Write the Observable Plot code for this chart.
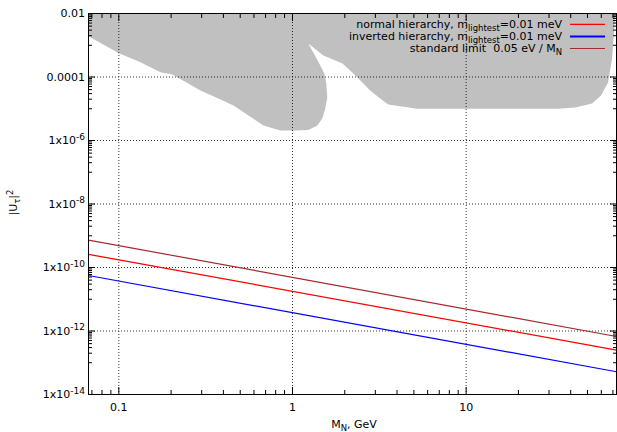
<!DOCTYPE html>
<html><head><meta charset="utf-8">
<script src="https://cdn.jsdelivr.net/npm/d3@7"></script>
<script src="https://cdn.jsdelivr.net/npm/@observablehq/plot@0.6"></script>
<style>body{margin:0;background:#fff}#chart svg{display:block}</style>
</head><body><div id="chart"></div>
<script>
// ---- data ----
const massRange = [0.0669, 73.4];                 // GeV, x-axis extent
const normalU2 = [2.6e-10, 2.5e-13];              // normal hierarchy at massRange ends
const invertedU2 = [5.6e-11, 5.2e-14];            // inverted hierarchy
const standardU2 = [7.3e-10, 6.7e-13];            // standard limit 0.05 eV / M_N
const seriesNames = ["normal", "inverted", "standard"];
const seriesColors = ["#ff0000", "#0000ff", "#a52a2a"];

// excluded (grey) region boundary, clockwise from top-left
const excludedMass = [0.0669, 73.4, 71.9, 69.2, 65.6, 59.8, 53.1, 42.4, 33.8, 5.23, 3.56, 3.20, 2.80, 2.46, 2.21, 1.94, 1.505, 1.234,
  1.446, 1.525, 1.566, 1.586, 1.545, 1.485, 1.390, 1.234, 1.011, 0.851, 0.680, 0.457, 0.385, 0.295, 0.2037, 0.1737, 0.1333, 0.1, 0.0669];
const excludedU2 = [1e-2, 1e-2, 6.8e-3, 3.83e-4, 6.7e-5, 2.61e-5, 1.46e-5, 1.09e-5, 1.0e-5, 1.0e-5, 1.36e-5, 2.10e-5, 3.76e-5, 7.76e-5, 1.39e-4, 2.66e-4, 4.75e-4, 1.135e-3,
  2.30e-4, 1.29e-4, 6.24e-5, 2.26e-5, 1.02e-5, 4.93e-6, 2.97e-6, 2.14e-6, 2.07e-6, 2.07e-6, 2.97e-6, 1.26e-5, 1.95e-5, 3.76e-5, 1.20e-4, 1.42e-4, 2.92e-4, 5.6e-4, 1.93e-3];

// ticks
const xMajorTicks = [0.1, 1, 10];
const xTickLabels = ["0.1", "1", "10"];
const xMinorTicks = [0.07, 0.08, 0.09, 0.2, 0.3, 0.4, 0.5, 0.6, 0.7, 0.8, 0.9, 2, 3, 4, 5, 6, 7, 8, 9, 20, 30, 40, 50, 60, 70];
const yMajorTicks = [1e-14, 1e-12, 1e-10, 1e-8, 1e-6, 1e-4, 1e-2];
const yTickLabels = ["1x10^-14", "1x10^-12", "1x10^-10", "1x10^-8", "1x10^-6", "0.0001", "0.01"];
const yMinorTicks = [];
[-13, -11, -9, -7, -5, -3].forEach(e => { for (let n = 1; n <= 9; n++) yMinorTicks.push(+(n + "e" + e)); });

// legend texts
const legendPre = ["normal hierarchy, m", "inverted hierarchy, m", "standard limit  0.05 eV / M"];
const legendSub = ["lightest", "lightest", "N"];
const legendPost = ["=0.01 meV", "=0.01 meV", ""];

// ---- build ----
const seriesValues = [normalU2, invertedU2, standardU2];
const lineData = seriesNames.flatMap((s, i) => massRange.map((m, j) => ({series: s, M: m, U2: seriesValues[i][j]})));
const region = excludedMass.map((m, i) => ({M: m, U2: excludedU2[i]}));
const font = "'DejaVu Sans', sans-serif";
const gridStyle = {stroke: "#000", strokeOpacity: 0.8, strokeDasharray: "1,2", strokeWidth: 1};
const noText = () => "";
const xFmt = d => xTickLabels[xMajorTicks.findIndex(v => Math.abs(v - d) / v < 1e-6)];
const yFmt = d => yTickLabels[yMajorTicks.findIndex(v => Math.abs(v - d) / v < 1e-6)];

const plot = Plot.plot({
  width: 617, height: 432,
  marginLeft: 88, marginRight: 1, marginTop: 13, marginBottom: 38,
  style: {fontFamily: font, fontSize: "11px", background: "#fff", color: "#000"},
  x: {type: "log", domain: massRange, label: null},
  y: {type: "log", domain: [1e-14, 1e-2], label: null},
  color: {domain: seriesNames, range: seriesColors},
  marks: [
    Plot.line(region, {x: "M", y: "U2", fill: "#c0c0c0", stroke: "none", curve: "linear"}),
    Plot.gridX(xMajorTicks, gridStyle),
    Plot.gridY(yMajorTicks.slice(1, -1), gridStyle),
    Plot.line(lineData, {x: "M", y: "U2", z: "series", stroke: "series", strokeWidth: 1.2}),
    Plot.axisX(xMajorTicks, {anchor: "bottom", tickSize: 0, tickPadding: 9, tickFormat: xFmt, label: null}),
    Plot.axisX(xMajorTicks, {anchor: "bottom", tickSize: -7, tickFormat: noText, label: null}),
    Plot.axisX(xMinorTicks, {anchor: "bottom", tickSize: -4, tickFormat: noText, label: null}),
    Plot.axisX(xMajorTicks, {anchor: "top", tickSize: -7, tickFormat: noText, label: null}),
    Plot.axisX(xMinorTicks, {anchor: "top", tickSize: -4, tickFormat: noText, label: null}),
    Plot.axisY(yMajorTicks, {anchor: "left", tickSize: 0, tickPadding: 3.5, tickFormat: yFmt, label: null}),
    Plot.axisY(yMajorTicks, {anchor: "left", tickSize: -7, tickFormat: noText, label: null}),
    Plot.axisY(yMinorTicks, {anchor: "left", tickSize: -4, tickFormat: noText, label: null}),
    Plot.axisY(yMajorTicks, {anchor: "right", tickSize: -7, tickFormat: noText, label: null}),
    Plot.axisY(yMinorTicks, {anchor: "right", tickSize: -4, tickFormat: noText, label: null}),
    Plot.frame({stroke: "#000", strokeWidth: 1})
  ]
});
document.getElementById("chart").appendChild(plot);

const svg = d3.select(plot);
// superscript exponents in y tick labels
svg.selectAll("text").each(function () {
  const t = this.textContent;
  if (t && t.includes("^") && this.children.length === 0) {
    const [b, e] = t.split("^");
    const s = d3.select(this);
    s.text(null);
    s.append("tspan").text(b);
    s.append("tspan").attr("dy", "-0.5em").attr("font-size", "9px").text(e);
  }
});

// legend
const lg = svg.append("g").attr("font-family", font).attr("font-size", 11).attr("fill", "#000");
const legendWidths = [1.2, 2, 1.2];
legendPre.forEach((pre, i) => {
  const y = 24.3 + i * 12.1;
  const t = lg.append("text").attr("x", 562).attr("y", y + 3.5).attr("text-anchor", "end");
  t.append("tspan").text(pre);
  t.append("tspan").attr("dy", 3).attr("font-size", 8.5).text(legendSub[i]);
  if (legendPost[i]) t.append("tspan").attr("dy", -3).text(legendPost[i]);
  lg.append("line").attr("x1", 570).attr("x2", 605).attr("y1", y).attr("y2", y)
    .attr("stroke", seriesColors[i]).attr("stroke-width", legendWidths[i]);
});

// axis labels
const xl = svg.append("text").attr("x", 354).attr("y", 428).attr("text-anchor", "middle")
  .attr("font-family", font).attr("font-size", 11).attr("fill", "#000");
xl.append("tspan").text("M");
xl.append("tspan").attr("dy", 3).attr("font-size", 8.5).text("N");
xl.append("tspan").attr("dy", -3).text(", GeV");

const yl = svg.append("text").attr("transform", "translate(17,202.5) rotate(-90)").attr("text-anchor", "middle")
  .attr("font-family", font).attr("font-size", 11).attr("fill", "#000");
yl.append("tspan").text("|U");
yl.append("tspan").attr("dy", 3).attr("font-size", 8.5).text("τ");
yl.append("tspan").attr("dy", -3).text("|");
yl.append("tspan").attr("dy", -4.5).attr("font-size", 8.5).text("2");
</script>
</body></html>
